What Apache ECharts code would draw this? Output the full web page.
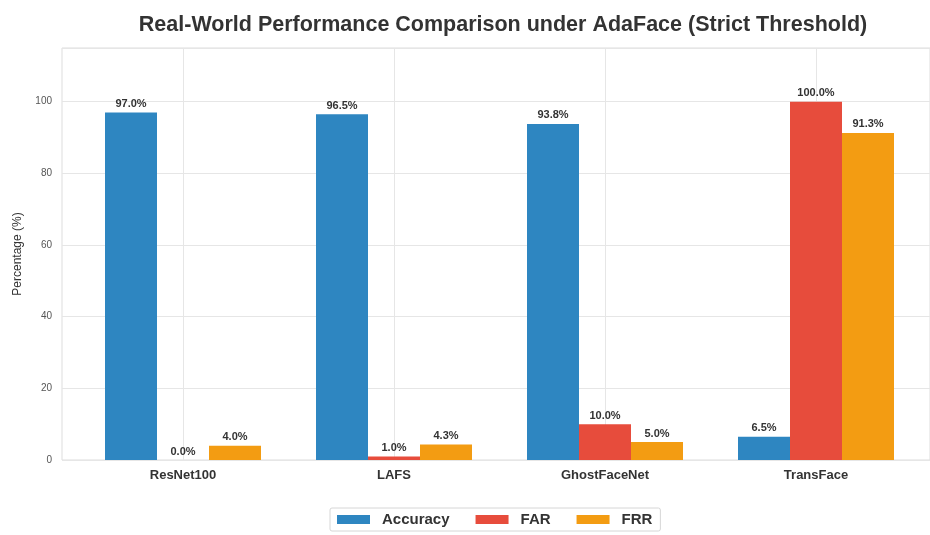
<!DOCTYPE html>
<html>
<head>
<meta charset="utf-8">
<script src="https://cdn.jsdelivr.net/npm/echarts@6/dist/echarts.min.js"></script>
<style>
  html, body { margin: 0; padding: 0; background: #ffffff; }
  #chart { width: 930px; height: 535px; }
</style>
</head>
<body>
<div id="chart"></div>
<script>
// Models compared
const models = ['ResNet100', 'LAFS', 'GhostFaceNet', 'TransFace'];

// Percentages per metric
const accuracy = [97.0, 96.5, 93.8, 6.5];
const far = [0.0, 1.0, 10.0, 100.0];
const frr = [4.0, 4.3, 5.0, 91.3];

const metricNames = ['Accuracy', 'FAR', 'FRR'];
const yTicks = [0, 20, 40, 60, 80, 100];

const colors = ['#2e86c1', '#e74c3c', '#f39c12'];
const font = '"Liberation Sans", Arial, sans-serif';

const chart = echarts.init(document.getElementById('chart'), null, { renderer: 'canvas' });

const valueLabel = {
  show: true,
  position: 'top',
  distance: 3,
  fontFamily: font,
  fontSize: 11,
  fontWeight: 'bold',
  color: '#333333',
  formatter: p => p.value.toFixed(1) + '%'
};

function barSeries(name, values, color) {
  return {
    name: name,
    type: 'bar',
    xAxisIndex: 1,
    yAxisIndex: 1,
    data: values,
    barWidth: 52,
    barGap: '0%',
    z: 3,
    itemStyle: { color: color },
    label: valueLabel
  };
}

const option = {
  backgroundColor: '#ffffff',
  animation: false,
  title: {
    text: 'Real-World Performance Comparison under AdaFace (Strict Threshold)',
    left: 498,
    textAlign: 'center',
    top: 9,
    textStyle: { fontFamily: font, fontSize: 21.5, fontWeight: 'bold', color: '#333333' }
  },
  legend: {
    data: metricNames,
    left: 330,
    top: 508,
    width: 340,
    itemWidth: 33,
    itemHeight: 9,
    itemGap: 26,
    padding: [4, 8, 4, 7],
    borderColor: '#d6d6d6',
    borderWidth: 1,
    borderRadius: 2,
    icon: 'rect',
    textStyle: {
      fontFamily: font, fontSize: 15, fontWeight: 'bold', color: '#333333',
      padding: [0, 0, 0, 7]
    }
  },
  grid: [
    // frame with horizontal grid and y ticks
    { left: 62, right: -5, top: 48, bottom: 75, show: true, borderColor: '#dddddd', borderWidth: 1, backgroundColor: 'transparent' },
    // band area holding the bar groups
    { left: 77.5, width: 844, top: 48, bottom: 75 }
  ],
  xAxis: [
    { gridIndex: 0, type: 'value', min: 0, max: 1, show: false },
    {
      gridIndex: 1,
      type: 'category',
      data: models,
      axisLine: { show: false },
      axisTick: { show: false },
      splitLine: { show: false },
      axisLabel: { fontFamily: font, fontSize: 13, fontWeight: 'bold', color: '#333333', margin: 9 }
    }
  ],
  yAxis: [
    {
      gridIndex: 0,
      type: 'value',
      min: 0,
      max: 115,
      interval: 20,
      name: 'Percentage (%)',
      nameLocation: 'middle',
      nameGap: 38,
      nameTextStyle: { fontFamily: font, fontSize: 12, color: '#333333' },
      axisLine: { show: false },
      axisTick: { show: false },
      axisLabel: {
        fontFamily: font, fontSize: 10, color: '#555555', margin: 10,
        formatter: v => (yTicks.indexOf(v) >= 0 ? String(v) : '')
      },
      splitLine: { show: true, lineStyle: { color: '#e6e6e6', width: 1 } }
    },
    { gridIndex: 1, type: 'value', min: 0, max: 115, show: false }
  ],
  series: [
    {
      // vertical grid lines at category centres, kept beneath the bars
      name: 'xgrid',
      type: 'line',
      xAxisIndex: 1,
      yAxisIndex: 1,
      data: [],
      z: 0,
      silent: true,
      markLine: {
        z: 0,
        silent: true,
        symbol: ['none', 'none'],
        label: { show: false },
        lineStyle: { color: '#e6e6e6', width: 1, type: 'solid' },
        data: models.map(m => ({ xAxis: m }))
      }
    },
    barSeries(metricNames[0], accuracy, colors[0]),
    barSeries(metricNames[1], far, colors[1]),
    barSeries(metricNames[2], frr, colors[2])
  ]
};

chart.setOption(option);
</script>
</body>
</html>
